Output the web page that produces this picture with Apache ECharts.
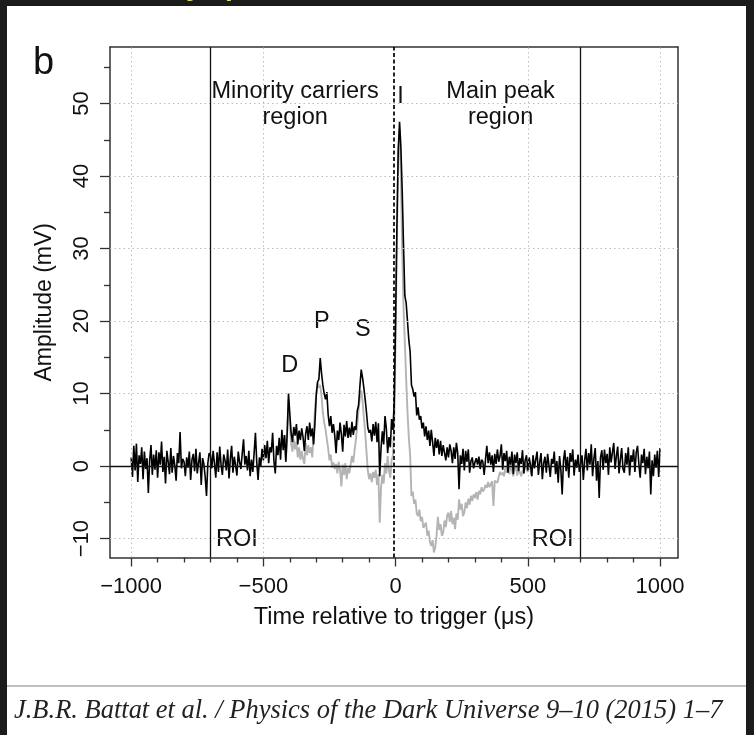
<!DOCTYPE html>
<html>
<head>
<meta charset="utf-8">
<script src="https://cdn.jsdelivr.net/npm/echarts@6/dist/echarts.min.js"></script>
<style>
  html, body { margin: 0; padding: 0; background: #1b1b1b; }
  #chart { width: 754px; height: 735px; }
</style>
</head>
<body>
<div id="chart"></div>
<script>
// Averaged pulse, sampled every 5 µs from -1000 µs to +1000 µs (mV)
const sampleStart = -1000;
const sampleStep = 5;
const totalSignal = [
  1.2, -1.5, 2.8, -0.6, 3.1, -2.2, 1.5, 0.3, 2.6, -1.8, 2.0, -0.4, 1.1, -3.7, 0.8, 2.9, -1.2, 1.6, -0.5, 2.2,
  -1.6, 1.9, 0.2, 3.4, -0.8, 1.3, -2.4, 2.1, 0.6, -1.1, 2.5, -0.9, 1.4, 0.1, -2.0, 1.8, 0.4, 4.7, -0.3, 1.0,
  0.6, -1.4, 1.2, -0.2, 2.0, -1.9, 0.9, 1.7, -0.7, 2.4, -1.0, 0.5, 1.9, -2.6, 1.1, 0.3, -1.5, -4.1, 0.4, 1.8,
  1.5, -0.3, 2.1, 0.4, -1.6, 1.9, -0.8, 2.7, 0.2, -1.2, 1.6, 0.8, -0.6, 2.3, -1.7, 1.0, 2.8, -0.9, 1.3, 0.1,
  -1.3, 2.0, 0.6, -0.4, 1.7, 3.7, 0.2, 1.4, -0.6, 2.1, -1.4, 0.9, -0.8, 1.8, 4.6, 0.5, -1.9, 1.2, 0.0, 2.4,
  0.8, 2.9, 1.1, 3.5, 0.4, 2.6, 1.9, 4.6, 0.7, -1.0, 2.8, 1.5, 3.9, 0.9, 5.0, 2.2, 4.3, 0.6, 4.5, 10.0,
  7.2, 4.6, 3.3, 5.4, 4.2, 5.8, 3.0, 4.9, 3.6, 5.2, 4.0, 2.1, 4.5, 5.5, 3.6, 6.0, 4.1, 5.2, 3.0, 5.9,
  9.8, 11.6, 12.0, 14.9, 12.8, 11.2, 10.0, 9.2, 10.2, 7.1, 5.5, 6.9, 4.6, 5.8, 4.2, 1.8, 4.9, 3.6, 6.0, 4.4,
  2.0, 5.7, 4.1, 6.2, 3.9, 5.3, 4.0, 6.1, 4.3, 5.5, 5.0, 7.6, 8.4, 11.0, 13.3, 12.2, 10.8, 9.2, 7.4, 5.3,
  4.6, 5.0, 3.4, 5.8, 4.2, 6.1, 3.3, 5.9, -1.4, 2.5, 4.8, 3.0, 6.9, 5.2, 1.8, 4.0, 2.6, 6.5, 5.0, 9.0,
  20.0, 33.0, 43.5, 47.5, 44.0, 38.0, 30.5, 23.5, 22.5, 20.0, 17.4, 15.8, 11.2, 10.6, 9.6, 10.2, 7.0, 8.1, 6.4, 6.9,
  5.2, 6.0, 4.1, 5.5, 3.6, 4.9, 2.8, 5.0, 3.3, 1.4, 3.9, 2.5, 3.7, 1.6, 3.5, 1.4, 2.9, 2.8, 0.8, 2.6,
  1.2, 3.0, 2.1, 0.4, 2.6, 1.0, 3.2, 1.8, -3.2, 1.5, 0.3, 2.4, -0.6, 2.1, 0.6, 2.3, -0.9, 0.7, 1.2, -0.3,
  0.5, 1.1, 0.2, 1.3, -0.4, 0.9, 0.6, -1.2, 0.9, 2.8, 0.4, 1.9, 0.2, 1.5, -0.8, 1.7, 0.3, 2.3, 0.6, 1.4,
  3.0, -0.5, 1.8, 0.7, 2.1, -0.9, 1.3, 0.2, 2.0, -1.1, 1.6, 0.4, 1.9, -0.7, 1.1, 0.3, 2.2, -1.0, 0.8, 1.5,
  -0.6, 1.2, 0.2, -1.4, 1.5, -0.3, 0.9, 2.0, -1.2, 0.6, 1.8, -1.8, 0.4, 1.3, -0.9, 1.7, 0.1, -1.5, 1.0, 0.3,
  2.0, -1.1, 0.7, -2.3, 1.4, -0.5, -3.9, 0.8, 2.2, -0.7, 1.3, -1.6, 1.8, 0.6, 2.3, -1.3, 0.9, -0.2, 1.6, -0.8,
  -0.7, 1.5, -1.9, 0.8, 2.4, -0.6, 1.8, 0.2, 3.0, -1.4, 1.1, 2.5, -2.0, 0.7, -4.4, 1.2, 2.2, -0.5, 2.3, 0.4,
  1.7, -1.2, 2.6, 0.5, 1.9, 3.2, -0.4, 1.4, 2.7, -1.0, 0.9, 2.5, -0.4, -0.9, 1.8, 0.2, 2.6, -1.3, 1.5, 0.6,
  2.3, -0.8, 1.9, 2.8, 0.3, -1.6, 1.6, 0.4, 2.4, -1.1, 1.3, -0.3, 2.0, -3.9, 0.8, -1.4, 1.6, -0.2, 2.1, -1.5, 2.5
];

// Pulse after removal of the slow component, -420 µs to +520 µs, same 5 µs sampling (mV)
const correctedStart = -420;
const correctedSignal = [
  4.3, 0.6, 4.3, 9.2, 5.8, 3.1, 2.0, 3.7, 2.3, 3.4, 1.2, 2.6, 0.9, 2.1, 1.0, 0.3, 3.2, 1.5, 2.9, 1.8,
  2.6, 1.2, 4.6, 7.8, 10.0, 11.5, 10.8, 11.2, 9.6, 7.4, 6.0, 5.1, 3.7, 2.4, 0.8, 1.6, -0.2, 0.5, -0.4, 0.3,
  -1.0, 0.6, -0.5, -2.8, 0.2, -1.2, 0.4, -1.8, -0.3, -1.0, 0.2, 1.4, 0.5, 2.2, 3.7, 5.6, 7.8, 9.4, 10.4, 9.0,
  6.8, 4.6, 2.0, -0.6, -1.8, -1.0, -2.2, -0.8, -1.6, -0.5, -2.6, -1.1, -7.8, -3.0, -1.2, -2.4, 0.4, -1.0, 1.4, -0.6,
  -1.6, 0.8, 1.5, 6.0, 18.0, 31.0, 43.0, 46.5, 40.0, 30.0, 22.0, 17.0, 12.0, 7.5, 4.0, 1.5, -4.1, -3.5, -5.2, -4.6,
  -6.5, -6.9, -6.0, -7.6, -7.0, -8.5, -8.7, -7.8, -9.6, -8.9, -10.5, -11.0, -10.2, -11.9, -11.2, -9.5, -7.0, -8.8, -8.0, -9.6,
  -9.2, -7.5, -8.4, -6.8, -6.4, -7.7, -6.2, -8.0, -7.1, -8.7, -6.5, -7.4, -4.6, -6.0, -5.2, -6.9, -6.4, -5.0, -5.8, -4.5,
  -5.3, -4.1, -4.8, -3.9, -4.4, -3.6, -4.6, -3.4, -3.9, -2.9, -3.5, -3.2, -2.6, -3.0, -2.2, -2.9, -2.8, -2.1, -5.5, -2.0,
  -1.8, -2.3, -1.5, -0.8, -1.2, -0.9, -1.4, -0.2, -0.9, 0.1, -1.1, 0.3, -0.6, -1.4, -0.5, 0.2, -1.3, -0.4, -0.9, -1.4,
  -0.6, -1.0, 0.3, -0.5, -0.8, 0.4, 0.2, -1.4, 1.5
];

// Axes
const xMajorTicks = [-1000, -500, 0, 500, 1000];
const xMinorTicks = [-900, -800, -700, -600, -400, -300, -200, -100, 100, 200, 300, 400, 600, 700, 800, 900];
const yMajorTicks = [-10, 0, 10, 20, 30, 40, 50];
const yMinorTicks = [-5, 5, 15, 25, 35, 45, 55];
const xRange = [-1080, 1068];
const yRange = [-12.6, 57.8];

// Region boundaries and trigger
const roiBounds = [-700, 700];
const triggerTime = -8;

// Text annotations: [text, time, amplitude]
const annotations = [
  ['Minority carriers\nregion', -380, 49.8],
  ['Main peak\nregion', 397, 49.8],
  ['I', 19, 51.0],
  ['D', -400, 13.9],
  ['P', -279, 19.9],
  ['S', -124, 18.9],
  ['ROI', -600, -10.1],
  ['ROI', 594, -10.1]
];

const FONT = 'Liberation Sans';
const INK = '#111111';
const FRAME = '#333';

const toPairs = (start, values) => values.map((v, i) => [start + i * sampleStep, v]);
const minusSign = v => (v < 0 ? '\u2212' + Math.abs(v) : String(v));

const dotted = { color: '#bdbdbd', width: 1, type: [1.5, 3] };
const guideLines = []
  .concat(xMajorTicks.filter(v => v !== 0).map(v => ({ xAxis: v, lineStyle: dotted })))
  .concat(yMajorTicks.filter(v => v !== 0).map(v => ({ yAxis: v, lineStyle: dotted })))
  .concat([{ yAxis: 0, lineStyle: { color: '#111', width: 1.3, type: 'solid' } }])
  .concat(roiBounds.map(v => ({ xAxis: v, lineStyle: { color: '#111', width: 1.3, type: 'solid' } })))
  .concat([{ xAxis: triggerTime, lineStyle: { color: '#000', width: 1.7, type: [4, 2.5] } }]);

const chart = echarts.init(document.getElementById('chart'), null, { renderer: 'canvas' });

chart.setOption({
  animation: false,
  backgroundColor: '#1b1b1b',
  textStyle: { fontFamily: FONT },
  grid: { left: 110, right: 76, top: 47, bottom: 177.5, containLabel: false },
  xAxis: [
    {
      type: 'value', min: xRange[0], max: xRange[1], position: 'bottom',
      axisLine: { show: true, onZero: false, lineStyle: { color: FRAME, width: 1.5 } },
      axisTick: { show: true, customValues: xMajorTicks, length: 9, lineStyle: { color: FRAME, width: 1.3 } },
      axisLabel: {
        show: true, customValues: xMajorTicks, margin: 18, fontSize: 22, color: INK, fontFamily: FONT,
        formatter: minusSign
      },
      splitLine: { show: false },
      name: 'Time relative to trigger (\u03bcs)', nameLocation: 'middle', nameGap: 48,
      nameTextStyle: { fontSize: 23.5, color: INK, fontFamily: FONT }
    },
    {
      type: 'value', min: xRange[0], max: xRange[1], position: 'top',
      axisLine: { show: true, onZero: false, lineStyle: { color: FRAME, width: 1.5 } },
      axisTick: { show: false }, axisLabel: { show: false }, splitLine: { show: false }
    },
    {
      type: 'value', min: xRange[0], max: xRange[1], position: 'bottom',
      axisLine: { show: false, onZero: false },
      axisTick: { show: true, customValues: xMinorTicks, length: 5, lineStyle: { color: FRAME, width: 1.3 } },
      axisLabel: { show: false }, splitLine: { show: false }
    }
  ],
  yAxis: [
    {
      type: 'value', min: yRange[0], max: yRange[1], position: 'left',
      axisLine: { show: true, onZero: false, lineStyle: { color: FRAME, width: 1.5 } },
      axisTick: { show: true, customValues: yMajorTicks, length: 10, lineStyle: { color: FRAME, width: 1.3 } },
      axisLabel: {
        show: true, customValues: yMajorTicks, rotate: 90, margin: 17, fontSize: 22, color: INK, fontFamily: FONT,
        formatter: minusSign
      },
      splitLine: { show: false },
      name: 'Amplitude (mV)', nameLocation: 'middle', nameGap: 54,
      nameTextStyle: { fontSize: 23, color: INK, fontFamily: FONT }
    },
    {
      type: 'value', min: yRange[0], max: yRange[1], position: 'right',
      axisLine: { show: true, onZero: false, lineStyle: { color: FRAME, width: 1.5 } },
      axisTick: { show: false }, axisLabel: { show: false }, splitLine: { show: false }
    },
    {
      type: 'value', min: yRange[0], max: yRange[1], position: 'left',
      axisLine: { show: false, onZero: false },
      axisTick: { show: true, customValues: yMinorTicks, length: 6, lineStyle: { color: FRAME, width: 1.3 } },
      axisLabel: { show: false }, splitLine: { show: false }
    }
  ],
  series: [
    {
      name: 'guides', type: 'line', data: [], z: 1, silent: true,
      markLine: { silent: true, symbol: ['none', 'none'], label: { show: false }, animation: false, data: guideLines }
    },
    {
      name: 'corrected', type: 'line', z: 2, showSymbol: false, symbol: 'none',
      lineStyle: { color: '#b4b4b4', width: 1.9 },
      data: toPairs(correctedStart, correctedSignal)
    },
    {
      name: 'total', type: 'line', z: 3, showSymbol: false, symbol: 'none',
      lineStyle: { color: '#000', width: 1.6 },
      data: toPairs(sampleStart, totalSignal)
    },
    {
      name: 'labels', type: 'scatter', z: 4, symbolSize: 0, silent: true,
      itemStyle: { opacity: 1 },
      data: annotations.map(a => ({ name: a[0], value: [a[1], a[2]] })),
      label: {
        show: true, position: 'inside', formatter: p => p.name, opacity: 1,
        fontSize: 23.5, lineHeight: 26, color: INK, fontFamily: FONT, align: 'center',
        textBorderWidth: 0, textBorderColor: 'transparent'
      }
    }
  ],
  graphic: [
    { type: 'text', z: -20, x: 186, y: -27, style: { text: 'y sp', fill: '#f0e400', font: 'bold 28px Liberation Sans' } },
    { type: 'rect', z: -10, shape: { x: 7, y: 6, width: 739, height: 729 }, style: { fill: '#ffffff' } },
    { type: 'text', x: 33, y: 45, style: { text: 'b', fill: INK, font: '38px Liberation Sans' } },
    { type: 'line', shape: { x1: 7, y1: 686, x2: 746, y2: 686 }, style: { stroke: '#aaaaaa', lineWidth: 1.5 } },
    {
      type: 'text', x: 14, y: 697, scaleX: 0.945,
      style: { text: 'J.B.R. Battat et al. / Physics of the Dark Universe 9\u201310 (2015) 1\u20137', fill: '#222', font: 'italic 28px Liberation Serif' }
    }
  ]
});
</script>
</body>
</html>
